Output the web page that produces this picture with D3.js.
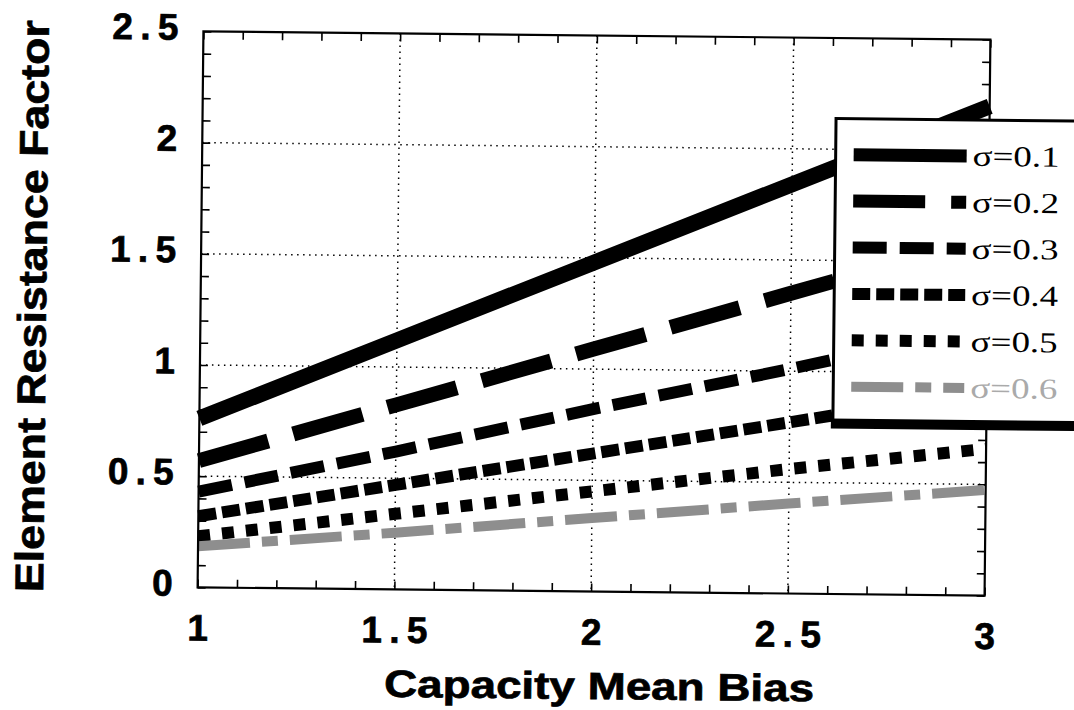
<!DOCTYPE html>
<html>
<head>
<meta charset="utf-8">
<script src="https://cdn.jsdelivr.net/npm/d3@7"></script>
<style>
  body { margin: 0; background: #fff; }
  text { font-family: "Liberation Sans", Arial, sans-serif; font-weight: bold; }
  .heavy { stroke: #000; stroke-width: 0.7px; }
</style>
</head>
<body>
<svg width="1074" height="710"></svg>
<script>
// x values (capacity mean bias) and one series per sigma
const biasValues = [1, 1.5, 2, 2.5, 3]
const sigma01 = [0.76, 1.12, 1.48, 1.84, 2.20]
const sigma02 = [0.57, 0.83, 1.09, 1.35, 1.61]
const sigma03 = [0.43, 0.62, 0.82, 1.01, 1.21]
const sigma04 = [0.32, 0.47, 0.62, 0.77, 0.92]
const sigma05 = [0.23, 0.34, 0.45, 0.56, 0.66]
const sigma06 = [0.185, 0.255, 0.33, 0.405, 0.475]
const sigmaLabels = ["σ=0.1", "σ=0.2", "σ=0.3", "σ=0.4", "σ=0.5", "σ=0.6"]
const xTicks = [1, 1.5, 2, 2.5, 3]
const yTicks = [0, 0.5, 1, 1.5, 2, 2.5]
const xGrid = [1.5, 2, 2.5]
const yGrid = [0.5, 1, 1.5, 2]

const plotLeft = 200.5, plotRight = 987.5, plotTop = 35.5, plotBottom = 591.5

const svg = d3.select("svg")
// the scanned figure is tilted slightly clockwise
const g = svg.append("g").attr("transform", "rotate(0.6, 594, 313)")

const x = d3.scaleLinear().domain([1, 3]).range([plotLeft, plotRight])
const y = d3.scaleLinear().domain([0, 2.5]).range([plotBottom, plotTop])

// dotted grid
g.append("g")
  .selectAll("line")
  .data(yGrid)
  .join("line")
  .attr("x1", plotLeft).attr("x2", plotRight)
  .attr("y1", d => y(d)).attr("y2", d => y(d))
  .attr("stroke", "#000").attr("stroke-width", 1.5).attr("stroke-dasharray", "1.5,4.5")

g.append("g")
  .selectAll("line")
  .data(xGrid)
  .join("line")
  .attr("y1", plotTop).attr("y2", plotBottom)
  .attr("x1", d => x(d)).attr("x2", d => x(d))
  .attr("stroke", "#000").attr("stroke-width", 1.5).attr("stroke-dasharray", "1.5,4.5")

// inward minor ticks on all four sides
const xMinor = d3.range(10, 31).map(d => d / 10)
const yMinor = d3.range(0, 26).map(d => d / 10)
const tickAxes = [
  [d3.axisBottom(x).tickValues(xMinor), `translate(0,${plotBottom})`],
  [d3.axisTop(x).tickValues(xMinor), `translate(0,${plotTop})`],
  [d3.axisLeft(y).tickValues(yMinor), `translate(${plotLeft},0)`],
  [d3.axisRight(y).tickValues(yMinor), `translate(${plotRight},0)`]
]
tickAxes.forEach(([ax, tr]) => {
  const a = g.append("g").attr("transform", tr)
    .call(ax.tickSize(-8).tickFormat(""))
  a.select(".domain").remove()
  a.selectAll("line").attr("stroke-width", 1.6)
})

// series
const series = [
  { values: sigma01, dash: null, width: 16, color: "#000" },
  { values: sigma02, dash: "72,26", width: 15, color: "#000" },
  { values: sigma03, dash: "34,13", width: 12, color: "#000" },
  { values: sigma04, dash: "18,6", width: 12, color: "#000" },
  { values: sigma05, dash: "12,12", width: 12, color: "#000" },
  { values: sigma06, dash: "52,12,16,12", width: 10, color: "#8e8e8e" }
]

const line = d3.line()
  .x((d, i) => x(biasValues[i]))
  .y(d => y(d))

g.append("g")
  .selectAll("path")
  .data(series)
  .join("path")
  .attr("d", d => line(d.values))
  .attr("fill", "none")
  .attr("stroke", d => d.color)
  .attr("stroke-width", d => d.width)
  .attr("stroke-dasharray", d => d.dash)

// frame
g.append("rect")
  .attr("x", plotLeft).attr("y", plotTop)
  .attr("width", plotRight - plotLeft).attr("height", plotBottom - plotTop)
  .attr("fill", "none").attr("stroke", "#000").attr("stroke-width", 2.2)

// tick labels
const xLab = g.append("g").attr("transform", `translate(0,${plotBottom})`)
  .call(d3.axisBottom(x).tickValues(xTicks).tickSize(0).tickPadding(27).tickFormat(d3.format("")))
xLab.select(".domain").remove()
xLab.selectAll("text")
  .attr("class", "heavy")
  .attr("font-size", 37).attr("fill", "#000")
  .attr("textLength", d => String(d).length > 1 ? 66 : null)

const yLab = g.append("g").attr("transform", `translate(${plotLeft},0)`)
  .call(d3.axisLeft(y).tickValues(yTicks).tickSize(0).tickPadding(25).tickFormat(d3.format("")))
yLab.select(".domain").remove()
yLab.selectAll("text")
  .attr("class", "heavy")
  .attr("font-size", 37).attr("fill", "#000").attr("dy", "0.22em")
  .attr("textLength", d => String(d).length > 1 ? 66 : null)

// axis titles
g.append("text")
  .attr("class", "heavy")
  .attr("x", 603).attr("y", 699)
  .attr("text-anchor", "middle")
  .attr("font-size", 38)
  .attr("textLength", 430)
  .attr("lengthAdjust", "spacingAndGlyphs")
  .text("Capacity Mean Bias")

g.append("text")
  .attr("class", "heavy")
  .attr("transform", "translate(46,312) rotate(-90)")
  .attr("text-anchor", "middle")
  .attr("font-size", 40)
  .attr("textLength", 572)
  .attr("lengthAdjust", "spacingAndGlyphs")
  .text("Element Resistance Factor")

// legend
const legend = g.append("g")
legend.append("rect")
  .attr("x", 834).attr("y", 116)
  .attr("width", 260).attr("height", 304)
  .attr("fill", "#fff").attr("stroke", "#000").attr("stroke-width", 3)
legend.append("line")
  .attr("x1", 832).attr("x2", 1090).attr("y1", 421).attr("y2", 421)
  .attr("stroke", "#000").attr("stroke-width", 10)

const rows = legend.selectAll("g.row")
  .data(series)
  .join("g")
  .attr("class", "row")
  .attr("transform", (d, i) => `translate(0,${152 + i * 46.4})`)

rows.append("line")
  .attr("x1", 852).attr("x2", 965)
  .attr("stroke", d => d.color)
  .attr("stroke-width", d => Math.min(d.width, 13))
  .attr("stroke-dasharray", d => d.dash)

rows.append("text")
  .attr("x", 971).attr("dy", "0.34em")
  .attr("font-size", 29)
  .attr("textLength", 87)
  .attr("lengthAdjust", "spacingAndGlyphs")
  .style("font-family", '"Liberation Serif", "Times New Roman", serif')
  .style("font-weight", "normal")
  .attr("fill", (d, i) => i === 5 ? "#aaa" : "#000")
  .text((d, i) => sigmaLabels[i])
</script>
</body>
</html>
